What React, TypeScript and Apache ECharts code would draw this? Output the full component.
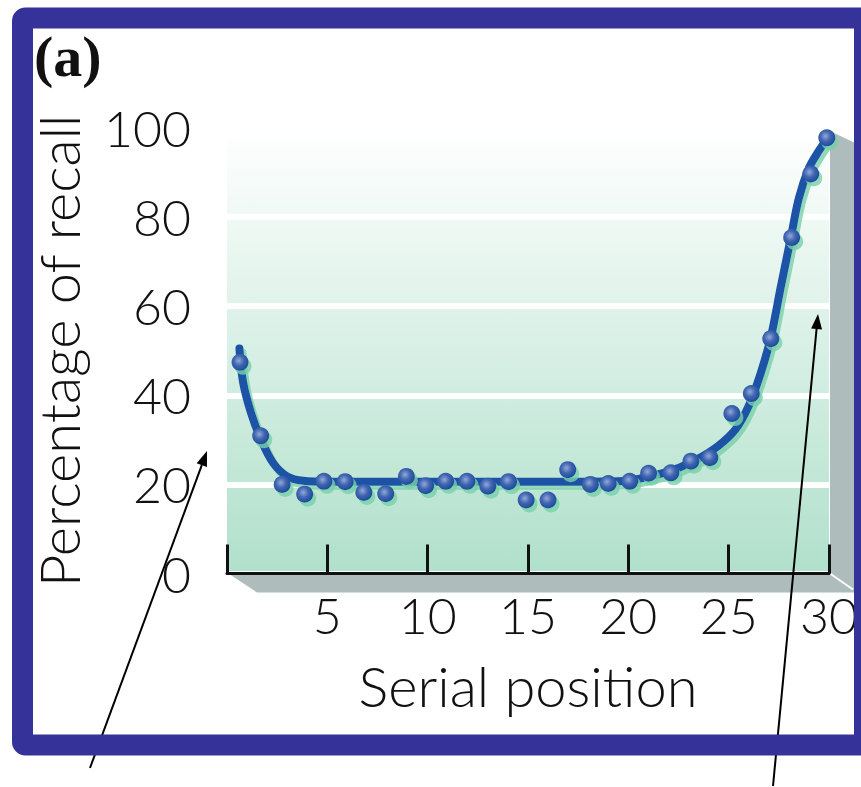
import React, { useEffect, useRef } from "react";
import * as echarts from "echarts";

// Observed data points (serial position, percentage of recall)
const serialPositions = [0.65, 1.68, 2.75, 3.87, 4.83, 5.89, 6.82, 7.91, 8.94, 9.9, 10.9, 11.96, 13.0, 14.03, 14.91, 16.0, 16.98, 18.11, 19.0, 20.07, 21.01, 22.12, 23.12, 24.06, 25.16, 26.13, 27.1, 28.14, 29.09, 29.89];
const recallPercent = [47.4, 30.9, 20.0, 17.8, 20.7, 20.6, 18.2, 17.9, 21.8, 19.7, 20.7, 20.7, 19.6, 20.6, 16.5, 16.5, 23.3, 20.0, 20.2, 20.7, 22.5, 22.6, 25.2, 26.0, 35.9, 40.4, 52.7, 75.4, 89.7, 97.8];

// Fitted serial-position curve
const curveX = [0.62, 0.8, 1.2, 1.7, 2.3, 3.0, 3.8, 5.0, 9.0, 13.0, 17.0, 19.5, 21.0, 22.5, 23.5, 24.5, 25.35, 26.0, 26.6, 27.1, 27.6, 28.1, 28.5, 29.0, 29.5, 29.9];
const curveY = [50.5, 43.0, 36.0, 30.0, 24.8, 21.8, 20.8, 20.6, 20.6, 20.6, 20.6, 20.7, 21.7, 23.7, 25.8, 28.7, 32.4, 37.6, 45.0, 53.0, 64.4, 75.4, 84.3, 91.0, 94.9, 97.5];

const xTickValues = [0, 5, 10, 15, 20, 25, 30];
const yTickValues = [0, 20, 40, 60, 80, 100];

const xAxisName = "Serial position";
const yAxisName = "Percentage of recall";
const panelLabel = "(a)";

const GRID = { left: 227, top: 128, width: 603, height: 445.5 };
const BLUE = "#35339a";
const GRAY = "#aebcbb";
const FONT = "Lato";

function arrow(x1: number, y1: number, x2: number, y2: number) {
  const dx = x2 - x1;
  const dy = y2 - y1;
  const len = Math.sqrt(dx * dx + dy * dy);
  const ux = dx / len;
  const uy = dy / len;
  const hl = 15;
  const hw = 5.5;
  const bx = x2 - ux * hl;
  const by = y2 - uy * hl;
  return [
    {
      type: "line",
      z: 50,
      shape: { x1, y1, x2: bx, y2: by },
      style: { stroke: "#000", lineWidth: 2 },
    },
    {
      type: "polygon",
      z: 50,
      shape: {
        points: [
          [x2, y2],
          [bx - uy * hw, by + ux * hw],
          [bx + uy * hw, by - ux * hw],
        ],
      },
      style: { fill: "#000" },
    },
  ];
}

export default function App() {
  const ref = useRef<HTMLDivElement>(null);

  useEffect(() => {
    if (!ref.current) return;
    const chart = echarts.init(ref.current, null, { renderer: "svg" });
    const right = GRID.left + GRID.width;
    const bottom = GRID.top + GRID.height;

    const option: any = {
      animation: false,
      backgroundColor: "#ffffff",
      grid: {
        left: GRID.left,
        top: GRID.top,
        width: GRID.width,
        height: GRID.height,
        show: true,
        borderWidth: 0,
        backgroundColor: new echarts.graphic.LinearGradient(0, 0, 0, 1, [
          { offset: 0, color: "#ffffff" },
          { offset: 1, color: "#b0e0cb" },
        ]),
      },
      xAxis: {
        type: "value",
        min: 0,
        max: 30,
        interval: 5,
        z: 5,
        name: xAxisName,
        nameLocation: "middle",
        nameGap: 84,
        nameTextStyle: { fontFamily: FONT, fontWeight: 300, fontSize: 56, color: "#111" },
        axisLine: { show: true, onZero: false, lineStyle: { color: "#111", width: 3 } },
        axisTick: { show: true, inside: true, length: 29, lineStyle: { color: "#111", width: 3 } },
        axisLabel: {
          margin: 16,
          fontFamily: FONT,
          fontWeight: 300,
          fontSize: 50,
          color: "#111",
          formatter: (v: number) => (xTickValues.indexOf(v) > 0 ? String(v) : ""),
        },
        splitLine: { show: false },
      },
      yAxis: {
        type: "value",
        min: 0,
        max: 100,
        interval: 20,
        z: 0,
        name: yAxisName,
        nameLocation: "middle",
        nameGap: 141,
        nameTextStyle: { fontFamily: FONT, fontWeight: 300, fontSize: 56, color: "#111" },
        axisLine: { show: false },
        axisTick: { show: false },
        axisLabel: {
          margin: 36,
          fontFamily: FONT,
          fontWeight: 300,
          fontSize: 50,
          color: "#111",
          formatter: (v: number) => (yTickValues.indexOf(v) >= 0 ? String(v) : ""),
        },
        splitLine: { show: true, lineStyle: { color: "#ffffff", width: 6 } },
      },
      series: [
        {
          type: "line",
          z: 6,
          data: curveX.map((x, i) => [x, curveY[i]]),
          smooth: 0.35,
          showSymbol: false,
          symbol: "none",
          lineStyle: {
            color: "#1a52a6",
            width: 8,
            cap: "round",
            join: "round",
            shadowColor: "rgba(120,208,170,0.8)",
            shadowOffsetX: 3,
            shadowOffsetY: 4,
            shadowBlur: 1,
          },
          silent: true,
        },
        {
          type: "scatter",
          z: 7,
          data: serialPositions.map((x, i) => [x, recallPercent[i]]),
          symbol: "circle",
          symbolSize: 17,
          itemStyle: {
            color: new echarts.graphic.RadialGradient(0.42, 0.4, 0.6, [
              { offset: 0, color: "#93a8da" },
              { offset: 0.5, color: "#4166b0" },
              { offset: 1, color: "#1c4b9c" },
            ]),
            shadowColor: "rgba(120,208,170,0.8)",
            shadowOffsetX: 3,
            shadowOffsetY: 4,
            shadowBlur: 1,
            opacity: 1,
          },
        },
      ],
      graphic: [
        {
          type: "polygon",
          z: 1,
          shape: { points: [[GRID.left, bottom - 1], [GRID.left + 30, bottom + 19], [855, bottom + 19], [855, bottom - 1]] },
          style: { fill: GRAY },
        },
        {
          type: "polygon",
          z: 1,
          shape: { points: [[right, GRID.top + 3], [855, GRID.top + 15], [855, bottom + 19], [right, bottom]] },
          style: { fill: GRAY },
        },
        {
          type: "line",
          z: 1,
          shape: { x1: right, y1: bottom, x2: 853, y2: bottom + 16 },
          style: { stroke: "#ffffff", lineWidth: 2 },
        },
        {
          type: "text",
          z: 60,
          left: 34,
          top: 27,
          style: {
            text: panelLabel,
            fontFamily: "Liberation Serif",
            fontWeight: "bold",
            fontSize: 58,
            fill: "#111",
          },
        },
        ...arrow(90, 768, 207, 451),
        ...arrow(773, 786, 818, 314),
        {
          type: "rect",
          z: 100,
          shape: { x: 22.5, y: 18, width: 842, height: 727, r: 3 },
          style: { fill: "none", stroke: BLUE, lineWidth: 21 },
        },
      ],
    };

    chart.setOption(option);
    return () => chart.dispose();
  }, []);

  return (
    <div
      ref={ref}
      style={{ position: "fixed", left: 0, top: 0, width: 861, height: 787, background: "#fff" }}
    />
  );
}
